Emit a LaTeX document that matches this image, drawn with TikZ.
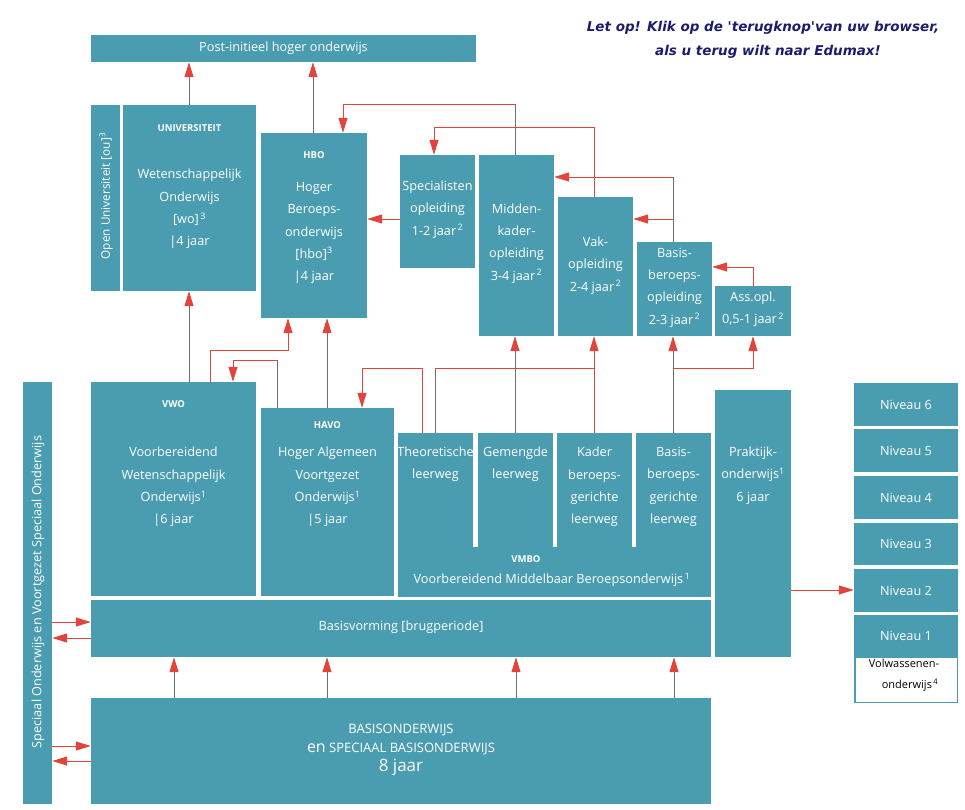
\documentclass[tikz,border=0pt]{standalone}
\usepackage{fontspec}
\setmainfont{Open Sans}
\newfontfamily\notefont{DejaVu Sans}
\usetikzlibrary{arrows.meta,fit}
\definecolor{teal0}{HTML}{4A9DB0}
\definecolor{red0}{HTML}{E0443C}
\definecolor{grey0}{HTML}{6E6E6E}
\definecolor{navy0}{HTML}{1C1C6E}
\tikzset{
  box/.style={fill=teal0, draw=none, inner sep=0pt},
  txt/.style={text=white, align=center, font=\fontsize{12.7}{22.3}\selectfont, inner sep=0pt},
  lbl/.style={text=white, font=\bfseries\fontsize{9.5}{11}\selectfont, inner sep=0pt},
  gl/.style={draw=grey0, line width=1pt},
  rl/.style={draw=red0, line width=1pt},
  arr/.style={-{Triangle[length=15pt,width=9pt,color=red0]}}
}
\begin{document}
\begin{tikzpicture}[x=1pt,y=-1pt]
\useasboundingbox (0,0) rectangle (965,809);
% boxes
\node[box, fit={(91,35) (476,62)}] (post) {};
\node[box, fit={(91,105) (120,291)}] (ou) {};
\node[box, fit={(123,105) (256,291)}] (wo) {};
\node[box, fit={(261,133) (367,318)}] (hbo) {};
\node[box, fit={(400,155) (475,268)}] (spec) {};
\node[box, fit={(479,155) (554,336)}] (mk) {};
\node[box, fit={(558,197) (633,336)}] (vak) {};
\node[box, fit={(637,242) (712,336)}] (bb) {};
\node[box, fit={(715,286) (791,336)}] (ass) {};
\node[box, fit={(91,382) (256,596)}] (vwo) {};
\node[box, fit={(261,408) (394,596)}] (havo) {};
\node[box, fit={(398,433) (473,548)}] (theo) {};
\node[box, fit={(478,433) (553,548)}] (gem) {};
\node[box, fit={(557,433) (632,548)}] (kader) {};
\node[box, fit={(636,433) (711,548)}] (basis) {};
\node[box, fit={(398,547) (711,597)}] (vmbo) {};
\node[box, fit={(715,390) (791,657)}] (prak) {};
\node[box, fit={(91,600) (711,657)}] (bv) {};
\node[box, fit={(91,698) (711,804)}] (bo) {};
\node[box, fit={(23,382) (52,804)}] (sbar) {};
\node[box, fit={(854,383) (958,426)}] (niv6) {};
\node[box, fit={(854,429) (958,472)}] (niv5) {};
\node[box, fit={(854,476) (958,519)}] (niv4) {};
\node[box, fit={(854,523) (958,565)}] (niv3) {};
\node[box, fit={(854,569) (958,612)}] (niv2) {};
\node[box, fit={(854,615) (958,656)}] (niv1) {};
\node[fill=white, draw=teal0, line width=1.5pt, inner sep=0pt, fit={(854.75,656.75) (957.25,702.25)}] (volw) {};
% texts
\node[txt] (tpost) at (283.5,48) {Post-initieel hoger onderwijs};
\node[txt, rotate=90, font=\fontsize{11.8}{14}\selectfont] (tou) at (106,196) {Open Universiteit [ou]\textsuperscript{3}};
\node[lbl] (luni) at (189.5,128) {UNIVERSITEIT};
\node[txt] (two) at (189.5,209) {Wetenschappelijk\\Onderwijs\\{[wo]}\textsuperscript{\,3}\\|4 jaar};
\node[lbl] (lhbo) at (314,155) {HBO};
\node[txt] (thbo) at (314,233) {Hoger\\Beroeps-\\onderwijs\\{[hbo]}\textsuperscript{3}\\|4 jaar};
\node[txt] (tspec) at (437.5,209.5) {Specialisten\\opleiding\\1-2 jaar\textsuperscript{\,2}};
\node[txt] (tmk) at (516.5,243.5) {Midden-\\kader-\\opleiding\\3-4 jaar\textsuperscript{\,2}};
\node[txt] (tvak) at (595.5,265.5) {Vak-\\opleiding\\2-4 jaar\textsuperscript{\,2}};
\node[txt] (tbb) at (674.5,287.5) {Basis-\\beroeps-\\opleiding\\2-3 jaar\textsuperscript{\,2}};
\node[txt] (tass) at (753,309.5) {Ass.opl.\\0,5-1 jaar\textsuperscript{\,2}};
\node[lbl] (lvwo) at (173.5,404) {VWO};
\node[txt] (tvwo) at (173.5,487) {Voorbereidend\\Wetenschappelijk\\Onderwijs\textsuperscript{1}\\|6 jaar};
\node[lbl] (lhavo) at (327.5,425) {HAVO};
\node[txt] (thavo) at (327.5,487) {Hoger Algemeen\\Voortgezet\\Onderwijs\textsuperscript{1}\\|5 jaar};
\node[txt] (ttheo) at (435.5,464.5) {Theoretische\\leerweg};
\node[txt] (tgem) at (515.5,464.5) {Gemengde\\leerweg};
\node[txt] (tkader) at (594.5,487) {Kader\\beroeps-\\gerichte\\leerweg};
\node[txt] (tbasis) at (673.5,487) {Basis-\\beroeps-\\gerichte\\leerweg};
\node[lbl] (lvmbo) at (526,559) {VMBO};
\node[txt] (tvmbo) at (552,580) {Voorbereidend Middelbaar Beroepsonderwijs\textsuperscript{\,1}};
\node[txt] (tprak) at (753,475.5) {Praktijk-\\onderwijs\textsuperscript{1}\\6 jaar};
\node[txt] (tbv) at (401,627) {Basisvorming [brugperiode]};
\node[txt, font=\fontsize{13}{19}\selectfont] (tbo) at (401,750) {BASISONDERWIJS\\{\fontsize{16}{19}\selectfont en} SPECIAAL BASISONDERWIJS\\{\fontsize{17}{19}\selectfont 8 jaar}};
\node[txt, rotate=90] (tsbar) at (38,592) {Speciaal Onderwijs en Voortgezet Speciaal Onderwijs};
\node[txt] (tn6) at (niv6) {Niveau 6};
\node[txt] (tn5) at (niv5) {Niveau 5};
\node[txt] (tn4) at (niv4) {Niveau 4};
\node[txt] (tn3) at (niv3) {Niveau 3};
\node[txt] (tn2) at (niv2) {Niveau 2};
\node[txt] (tn1) at (niv1) {Niveau 1};
\node[txt, text=black, font=\fontsize{11}{21}\selectfont] (tvolw) at (904,675) {Volwassenen-\\\hspace*{12pt}onderwijs\textsuperscript{\,4}};
\node[text=navy0, align=center, inner sep=0pt, font=\notefont\bfseries\itshape\fontsize{13.5}{24}\selectfont] (note) at (763,40) {Let op! Klik op de 'terugknop'van uw browser,\\\hspace*{10pt}als u terug wilt naar Edumax!};
% bend coordinates
\coordinate (c1) at (515,104);
\coordinate (c2) at (594,127);
\coordinate (c3) at (673,177);
\coordinate (c4) at (673,219);
\coordinate (c5) at (753,267);
\coordinate (c6) at (210,350);
\coordinate (c7) at (277,360);
\coordinate (c8) at (422,368);
\coordinate (c9) at (435,368);
\coordinate (c10) at (594,368);
\coordinate (c11) at (673,368);
% connectors upper
\draw[gl, arr] (189,0 |- wo.north) -- (189,0 |- post.south);
\draw[gl, arr] (313,0 |- hbo.north) -- (313,0 |- post.south);
\draw[gl] (c1 |- mk.north) -- (c1);
\draw[rl, arr] (c1) -| (343,0 |- hbo.north);
\draw[rl] (c2 |- vak.north) -- (c2);
\draw[rl, arr] (c2) -| (434,0 |- spec.north);
\draw[gl] (c3 |- bb.north) -- (c3);
\draw[rl, arr] (c3) -- (c3 -| mk.east);
\draw[rl, arr] (c4) -- (c4 -| vak.east);
\draw[rl, arr] (c5 |- ass.north) -- (c5) -- (c5 -| bb.east);
\draw[rl, arr] (spec.west |- 0,219) -- (hbo.east |- 0,219);
% connectors middle
\draw[gl, arr] (189,0 |- vwo.north) -- (189,0 |- wo.south);
\draw[rl, arr] (c6 |- vwo.north) -- (c6) -| (288,0 |- hbo.south);
\draw[gl] (c7 |- havo.north) -- (c7);
\draw[rl, arr] (c7) -| (233,0 |- vwo.north);
\draw[gl, arr] (327,0 |- havo.north) -- (327,0 |- hbo.south);
\draw[rl, arr] (c8 |- theo.north) -- (c8) -| (362,0 |- havo.north);
\draw[gl] (c9 |- theo.north) -- (c9);
\draw[rl] (c9) -- (c10);
\draw[rl, arr] (c10 |- kader.north) -- (c10 |- vak.south);
\draw[gl, arr] (515,0 |- gem.north) -- (515,0 |- mk.south);
\draw[gl, arr] (c11 |- basis.north) -- (c11 |- bb.south);
\draw[rl, arr] (c11) -| (753,0 |- ass.south);
% connectors lower
\draw[gl, arr] (174,0 |- bo.north) -- (174,0 |- bv.south);
\draw[gl, arr] (327,0 |- bo.north) -- (327,0 |- bv.south);
\draw[gl, arr] (516,0 |- bo.north) -- (516,0 |- bv.south);
\draw[gl, arr] (674,0 |- bo.north) -- (674,0 |- bv.south);
\draw[rl, arr] (sbar.east |- 0,622) -- (bv.west |- 0,622);
\draw[rl, arr] (bv.west |- 0,638) -- (sbar.east |- 0,638);
\draw[rl, arr] (sbar.east |- 0,746) -- (bo.west |- 0,746);
\draw[rl, arr] (bo.west |- 0,761) -- (sbar.east |- 0,761);
\draw[rl, arr] (prak.east |- 0,590) -- (niv2.west |- 0,590);
\end{tikzpicture}
\end{document}
